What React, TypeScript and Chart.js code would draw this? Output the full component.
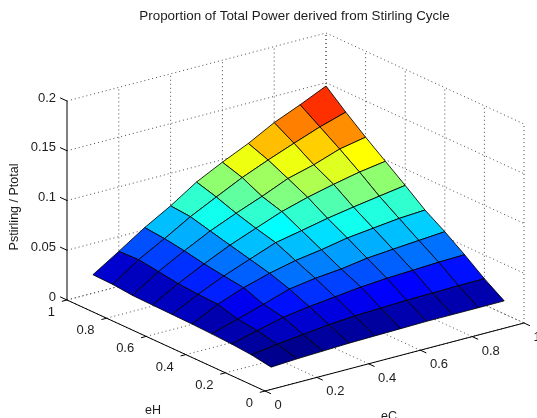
import React, { useEffect, useRef } from "react";
import { Chart, registerables } from "chart.js";

Chart.register(...registerables);

const titleText = "Proportion of Total Power derived from Stirling Cycle";
const xLabel = "eC";
const yLabel = "eH";
const zLabel = "Pstirling / Ptotal";

const eCValues = [0.1, 0.2, 0.3, 0.4, 0.5, 0.6, 0.7, 0.8, 0.9, 1.0];
const eHValues = [0.1, 0.2, 0.3, 0.4, 0.5, 0.6, 0.7, 0.8, 0.9, 1.0];

// rows follow eH, columns follow eC
const row01 = [0.0080, 0.0095, 0.0105, 0.0115, 0.0120, 0.0125, 0.0130, 0.0130, 0.0130, 0.0131];
const row02 = [0.0113, 0.0150, 0.0180, 0.0210, 0.0230, 0.0240, 0.0250, 0.0255, 0.0260, 0.0262];
const row03 = [0.0130, 0.0195, 0.0260, 0.0300, 0.0330, 0.0360, 0.0380, 0.0392, 0.0405, 0.0412];
const row04 = [0.0140, 0.0220, 0.0300, 0.0385, 0.0425, 0.0450, 0.0490, 0.0512, 0.0532, 0.0552];
const row05 = [0.0148, 0.0277, 0.0376, 0.0452, 0.0512, 0.0552, 0.0602, 0.0632, 0.0662, 0.0678];
const row06 = [0.0152, 0.0286, 0.0402, 0.0502, 0.0600, 0.0653, 0.0708, 0.0753, 0.0794, 0.0834];
const row07 = [0.0156, 0.0302, 0.0432, 0.0552, 0.0653, 0.0753, 0.0828, 0.0890, 0.0945, 0.0985];
const row08 = [0.0161, 0.0332, 0.0472, 0.0603, 0.0713, 0.0814, 0.0925, 0.0995, 0.1085, 0.1136];
const row09 = [0.0180, 0.0360, 0.0503, 0.0655, 0.0785, 0.0912, 0.1020, 0.1120, 0.1216, 0.1296];
const row10 = [0.0186, 0.0352, 0.0523, 0.0673, 0.0844, 0.0975, 0.1095, 0.1236, 0.1347, 0.1467];
const zValues = [row01, row02, row03, row04, row05, row06, row07, row08, row09, row10];

const xTicks = [0, 0.2, 0.4, 0.6, 0.8, 1];
const yTicks = [0, 0.2, 0.4, 0.6, 0.8, 1];
const zTicks = [0, 0.05, 0.1, 0.15, 0.2];
const zTickLabels = ["0", "0.05", "0.1", "0.15", "0.2"];

// oblique view of the 3-D box
const view = { ox: 265, oy: 391, xx: 259, xy: -68, yx: -198, yy: -91, zy: -199 / 0.2 };
const W = 537;
const H = 418;
const LEFT = 52;
const TITLE_SIZE = 13.4;
const TITLE_TOP = 8;
const AREA_TOP = TITLE_TOP + TITLE_SIZE * 1.2;
const DOT = "#4a4a4a";
const INK = "#1c1c1c";

const proj = (eC: number, eH: number, z: number) => ({
  x: view.ox + eC * view.xx + eH * view.yx,
  y: view.oy + eC * view.xy + eH * view.yy + z * view.zy,
});

function jet(t: number) {
  const k = Math.min(64, Math.floor(t * 64) + 1);
  let r = 0, g = 0, b = 0;
  if (k <= 8) { b = 0.5 + k / 16; }
  else if (k <= 24) { g = (k - 8) / 16; b = 1; }
  else if (k <= 40) { r = (k - 24) / 16; g = 1; b = (40 - k) / 16; }
  else if (k <= 56) { r = 1; g = (56 - k) / 16; }
  else { r = 1 - (k - 56) / 16; }
  return `rgb(${Math.round(r * 255)},${Math.round(g * 255)},${Math.round(b * 255)})`;
}

const lineSet = (a: any, b: any, dotted: boolean, color?: string) => ({
  data: [a, b],
  showLine: true,
  pointRadius: 0,
  borderWidth: 1,
  borderColor: color || (dotted ? DOT : "#000"),
  borderDash: dotted ? [1, 3] : [],
  fill: false,
});

function buildDatasets() {
  const flat = zValues.flat();
  const zMin = Math.min(...flat);
  const zMax = Math.max(...flat);
  const cells: any[] = [];
  // first dataset is painted last: nearest cells go first
  for (let j = 0; j < eHValues.length - 1; j++) {
    for (let i = 0; i < eCValues.length - 1; i++) {
      const p0 = proj(eCValues[i], eHValues[j], zValues[j][i]);
      const p1 = proj(eCValues[i + 1], eHValues[j], zValues[j][i + 1]);
      const p2 = proj(eCValues[i + 1], eHValues[j + 1], zValues[j + 1][i + 1]);
      const p3 = proj(eCValues[i], eHValues[j + 1], zValues[j + 1][i]);
      const color = jet((zValues[j][i] - zMin) / (zMax - zMin));
      cells.push({
        data: [p0, p1, p2, p3, p0],
        showLine: true,
        pointRadius: 0,
        borderWidth: 0.85,
        borderColor: "#000",
        borderJoinStyle: "round",
        backgroundColor: color,
        fill: "shape",
      });
    }
  }
  const axes: any[] = [];
  axes.push(lineSet(proj(0, 1, 0), proj(0, 1, 0.2), false));
  axes.push(lineSet(proj(0, 1, 0), proj(0, 0, 0), false));
  axes.push(lineSet(proj(0, 0, 0), proj(1, 0, 0), false));
  for (const z of zTicks) axes.push(lineSet(proj(0, 1, z), proj(0, 1.035, z), false));
  for (const e of yTicks) axes.push(lineSet(proj(0, e, 0), proj(-0.02, e, 0), false));
  for (const e of xTicks) axes.push(lineSet(proj(e, 0, 0), proj(e, -0.03, 0), false));
  const grid: any[] = [];
  for (const z of zTicks) {
    grid.push(lineSet(proj(0, 1, z), proj(1, 1, z), true));
    grid.push(lineSet(proj(1, 1, z), proj(1, 0, z), true));
  }
  for (const e of xTicks) {
    if (e > 0) grid.push(lineSet(proj(e, 1, 0), proj(e, 1, 0.2), true));
    grid.push(lineSet(proj(e, 0, 0), proj(e, 1, 0), true));
  }
  for (const e of yTicks) {
    grid.push(lineSet(proj(1, e, 0), proj(1, e, 0.2), true));
    grid.push(lineSet(proj(0, e, 0), proj(1, e, 0), true));
  }
  return [...cells, ...axes, ...grid];
}

const labelPlugin = {
  id: "boxLabels",
  afterDraw(chart: any) {
    const { ctx, scales } = chart;
    const px = (p: { x: number; y: number }) => ({
      x: scales.x.getPixelForValue(p.x),
      y: scales.y.getPixelForValue(p.y),
    });
    ctx.save();
    ctx.fillStyle = INK;
    ctx.font = "13px 'Liberation Sans', Arial, sans-serif";
    ctx.textBaseline = "middle";
    ctx.textAlign = "right";
    zTicks.forEach((z, n) => {
      const p = px(proj(0, 1, z));
      ctx.fillText(zTickLabels[n], p.x - 11, p.y - 3);
    });
    yTicks.forEach((e) => {
      const p = px(proj(0, e, 0));
      ctx.fillText(String(e), p.x - 12, p.y + 12.5);
    });
    ctx.textAlign = "left";
    xTicks.forEach((e) => {
      const p = px(proj(e, 0, 0));
      ctx.fillText(String(e), p.x + 9.5, p.y + 14.5);
    });
    ctx.textAlign = "center";
    ctx.font = "12.5px 'Liberation Sans', Arial, sans-serif";
    ctx.fillText(yLabel, scales.x.getPixelForValue(153), scales.y.getPixelForValue(411));
    ctx.fillText(xLabel, scales.x.getPixelForValue(389), scales.y.getPixelForValue(417));
    ctx.translate(15, scales.y.getPixelForValue(207));
    ctx.rotate(-Math.PI / 2);
    ctx.fillText(zLabel, 0, 0);
    ctx.restore();
  },
};

export default function App() {
  const ref = useRef<HTMLCanvasElement>(null);
  useEffect(() => {
    const chart = new Chart(ref.current as HTMLCanvasElement, {
      type: "scatter",
      data: { datasets: buildDatasets() as any },
      options: {
        animation: false,
        responsive: false,
        events: [],
        layout: { padding: { left: LEFT, right: 0, top: 0, bottom: 0 } },
        elements: { line: { tension: 0 } },
        scales: {
          x: { type: "linear", display: false, min: LEFT, max: W },
          y: { type: "linear", display: false, min: AREA_TOP, max: H, reverse: true },
        },
        plugins: {
          legend: { display: false },
          tooltip: { enabled: false },
          title: {
            display: true,
            text: titleText,
            fullSize: false,
            color: INK,
            font: { family: "'Liberation Sans', Arial, sans-serif", size: TITLE_SIZE, weight: "normal", lineHeight: 1.2 },
            padding: { top: TITLE_TOP, bottom: 0 },
          },
        },
      } as any,
      plugins: [labelPlugin],
    });
    return () => chart.destroy();
  }, []);
  return (
    <div style={{ position: "absolute", left: 0, top: 0, width: W, height: H }}>
      <canvas ref={ref} width={W} height={H} style={{ display: "block" }} />
    </div>
  );
}
